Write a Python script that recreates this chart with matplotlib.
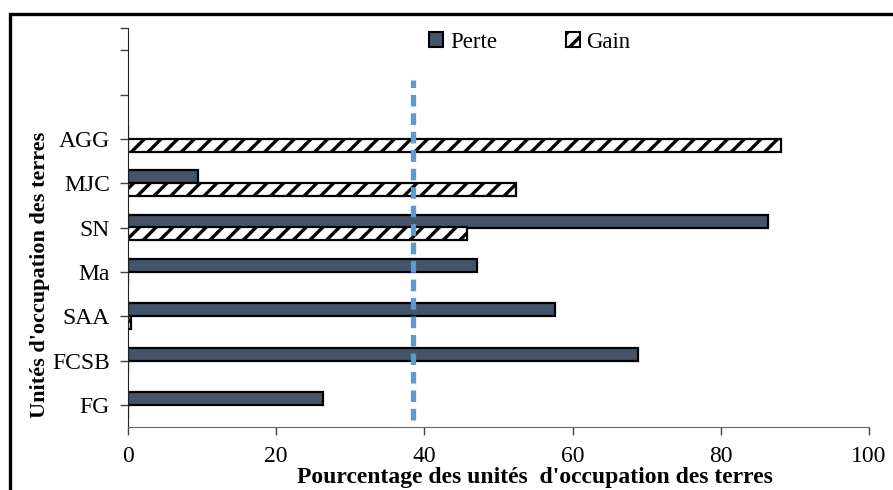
import matplotlib
matplotlib.use("Agg")
import matplotlib.pyplot as plt
from matplotlib.patches import Rectangle, Patch
import numpy as np

categories = ["FG", "FCSB", "SAA", "Ma", "SN", "MJC", "AGG"]
perte = [26.3, 68.8, 57.6, 47.1, 86.4, 9.4, 0.0]
gain = [0.0, 0.0, 0.4, 0.0, 45.7, 52.4, 88.1]
mean_line = 38.4
xticks = [0, 20, 40, 60, 80, 100]

plt.rcParams['font.family'] = ['Liberation Serif', 'DejaVu Serif']
plt.rcParams['hatch.linewidth'] = 2.4

fig = plt.figure(figsize=(8.93, 4.90), dpi=100)
ax = fig.add_axes([128/893, 1-427/490, (869-128)/893, (427-28)/490])

y = np.arange(len(categories)) + 0.5
h = 0.29
ax.barh(y + h/2, perte, height=h, color="#44546A", edgecolor="black", linewidth=1.6, zorder=2)
ax.barh(y - h/2, gain, height=h, color="white", edgecolor="black", hatch="//", linewidth=1.6, zorder=2)

ax.plot([mean_line, mean_line], [0.16, 7.83], color="#5B9BD5", linewidth=3.8,
        linestyle=(0, (2.2, 1.3)), zorder=3)

ax.set_xlim(0, 100)
ax.set_ylim(0, 9)
ax.set_xticks(xticks)
ax.set_xticklabels([str(v) for v in xticks], fontsize=17)
ax.set_yticks(list(y) + [7.5, 8.5, 9.0])
ax.set_yticklabels(categories + ["", "", ""], fontsize=17)
ax.tick_params(axis="both", direction="out", length=6, width=1, color="#444444")
ax.tick_params(axis="y", pad=7)
ax.tick_params(axis="x", pad=8)
for s in ["top", "right"]:
    ax.spines[s].set_visible(False)
ax.spines["left"].set_color("#222222")
ax.spines["bottom"].set_color("#666666")

fig.text(535/893, 1-477/490, "Pourcentage des unités  d'occupation des terres", fontsize=17,
         fontweight="bold", ha="center", va="center")
fig.text(40/893, 1-275/490, "Unités d'occupation des terres", fontsize=16, fontweight="bold",
         rotation=90, ha="center", va="center")

handles = [Patch(facecolor="#44546A", edgecolor="black", linewidth=1.5, label="Perte"),
           Patch(facecolor="white", edgecolor="black", hatch="//", linewidth=1.5, label="Gain")]
ax.legend(handles=handles, loc="center", bbox_to_anchor=(530/893, 1-42/490),
          bbox_transform=fig.transFigure, ncol=2,
          frameon=False, fontsize=16.5, handlelength=0.6, handleheight=0.6,
          handletextpad=0.3, columnspacing=3.0)

fig.patches.append(Rectangle((10/893, -0.1), 1.2, 1.1 - 14/490, transform=fig.transFigure,
                             fill=False, edgecolor="black", linewidth=2.4))

fig.savefig("out.png", dpi=100)
